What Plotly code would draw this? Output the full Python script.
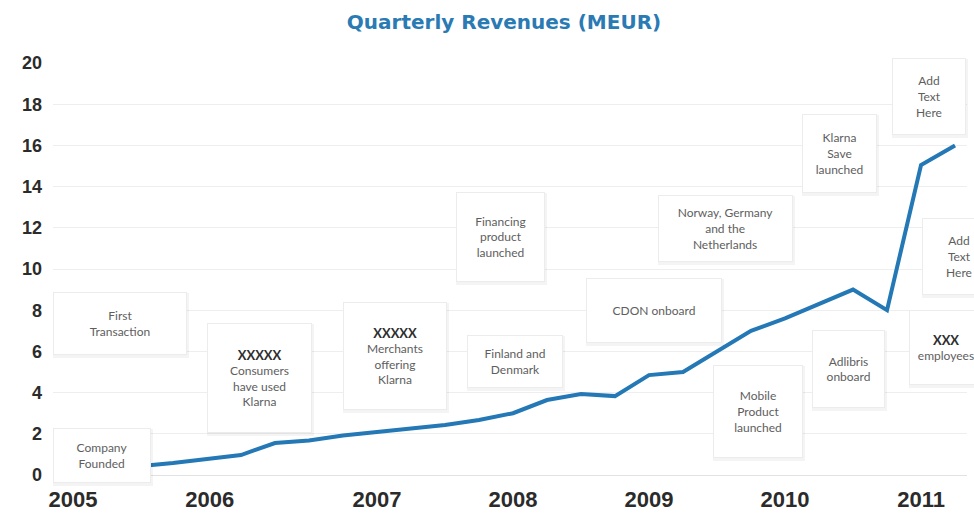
import plotly.graph_objects as go

# ---- data ----
quarters = ["2005Q2", "2005Q3", "2005Q4", "2006Q1", "2006Q2", "2006Q3", "2006Q4",
            "2007Q1", "2007Q2", "2007Q3", "2007Q4", "2008Q1", "2008Q2", "2008Q3",
            "2008Q4", "2009Q1", "2009Q2", "2009Q3", "2009Q4", "2010Q1", "2010Q2",
            "2010Q3", "2010Q4", "2011Q1", "2011Q2"]
revenues = [0.43, 0.58, 0.78, 0.97, 1.55, 1.68, 1.92,
            2.08, 2.28, 2.43, 2.67, 3.0, 3.64, 3.93,
            3.83, 4.85, 5.0, 6.0, 7.0, 7.6, 8.3,
            9.0, 8.0, 15.05, 16.0]
year_labels = ["2005", "2006", "2007", "2008", "2009", "2010", "2011"]
y_ticks = [0, 2, 4, 6, 8, 10, 12, 14, 16, 18, 20]

BOLD = "<span style='font-size:13px;color:#2e2e2e'><b>%s</b></span>"
events = [
    "Company<br>Founded",
    "First<br>Transaction",
    BOLD % "XXXXX" + "<br>Consumers<br>have used<br>Klarna",
    BOLD % "XXXXX" + "<br>Merchants<br>offering<br>Klarna",
    "Financing<br>product<br>launched",
    "Finland and<br>Denmark",
    "CDON onboard",
    "Norway, Germany<br>and the<br>Netherlands",
    "Mobile<br>Product<br>launched",
    "Klarna<br>Save<br>launched",
    "Adlibris<br>onboard",
    "Add<br>Text<br>Here",
    "Add<br>Text<br>Here",
    BOLD % "XXX" + "<br>employees",
]

def q_to_year(q):
    y, k = q.split("Q")
    return int(y) + (int(k) - 1) * 0.25

x_vals = [q_to_year(q) for q in quarters]

# ---- layout helpers ----
# box placements: (center x in years, center y in MEUR, width px, height px)
box_place = [
    (2004.978, 0.95, 98, 55),
    (2005.11, 7.35, 134, 63),
    (2006.136, 4.71, 105, 110),
    (2007.13, 5.78, 104, 108),
    (2007.91, 11.55, 89, 90),
    (2008.015, 5.51, 96, 53),
    (2009.04, 7.99, 136, 65),
    (2009.56, 11.97, 135, 67),
    (2009.80, 3.08, 90, 93),
    (2010.40, 15.61, 75, 79),
    (2010.47, 5.15, 73, 78),
    (2011.06, 18.37, 74, 77),
    (2011.28, 10.6, 74, 77),
    (2011.18, 6.19, 74, 75),
]
tick_pos = [2004.765, 2005.77, 2007.0, 2008.0, 2009.0, 2010.0, 2011.0]

fig = go.Figure()
fig.add_trace(go.Scatter(
    x=x_vals, y=revenues, mode="lines",
    line=dict(color="#2378b5", width=4),
    hoverinfo="skip", showlegend=False,
))

annotations = []
# shadows first
for (cx, cy, w, h) in box_place:
    annotations.append(dict(
        x=cx, y=cy, xref="x", yref="y", text="", showarrow=False,
        width=w + 2, height=h + 2, bgcolor="rgba(0,0,0,0.045)",
        borderwidth=0, borderpad=0, xshift=1, yshift=-2,
    ))
for txt, (cx, cy, w, h) in zip(events, box_place):
    annotations.append(dict(
        x=cx, y=cy, xref="x", yref="y", text=txt, showarrow=False,
        width=w - 2, height=h - 2, bgcolor="white",
        bordercolor="#ececec", borderwidth=1, borderpad=0,
        align="center", valign="middle",
        font=dict(family="Lato, DejaVu Sans, sans-serif", size=12, color="#5e5e5e"),
    ))

fig.update_layout(
    width=974, height=515,
    margin=dict(l=53, r=7, t=62.7, b=40),
    paper_bgcolor="white", plot_bgcolor="white",
    title=dict(
        text="<b>Quarterly Revenues (MEUR)</b>",
        x=504 / 974, xref="container", xanchor="center",
        y=1 - 22 / 515, yref="container", yanchor="middle",
        font=dict(family="DejaVu Sans, sans-serif", size=20, color="#2a7ab3"),
    ),
    xaxis=dict(
        range=[2004.618, 2011.338], automargin=False,
        tickvals=tick_pos, ticktext=year_labels,
        showgrid=False, zeroline=False, showline=False, ticks="",
        tickfont=dict(family="Liberation Sans, Arial, sans-serif", size=22, color="#2b2b2b", weight="bold"),
        ticklabelstandoff=9,
    ),
    yaxis=dict(
        range=[0, 20], automargin=False,
        tickvals=y_ticks, ticktext=[str(v) for v in y_ticks],
        showgrid=True, gridcolor="#eeeeee", gridwidth=1,
        zeroline=True, zerolinecolor="#e2e2e2", zerolinewidth=1,
        showline=False, ticks="",
        tickfont=dict(family="Liberation Sans, Arial, sans-serif", size=18, color="#2b2b2b", weight="bold"),
        ticklabelstandoff=10,
    ),
    annotations=annotations,
)

fig.write_html("out.html")
